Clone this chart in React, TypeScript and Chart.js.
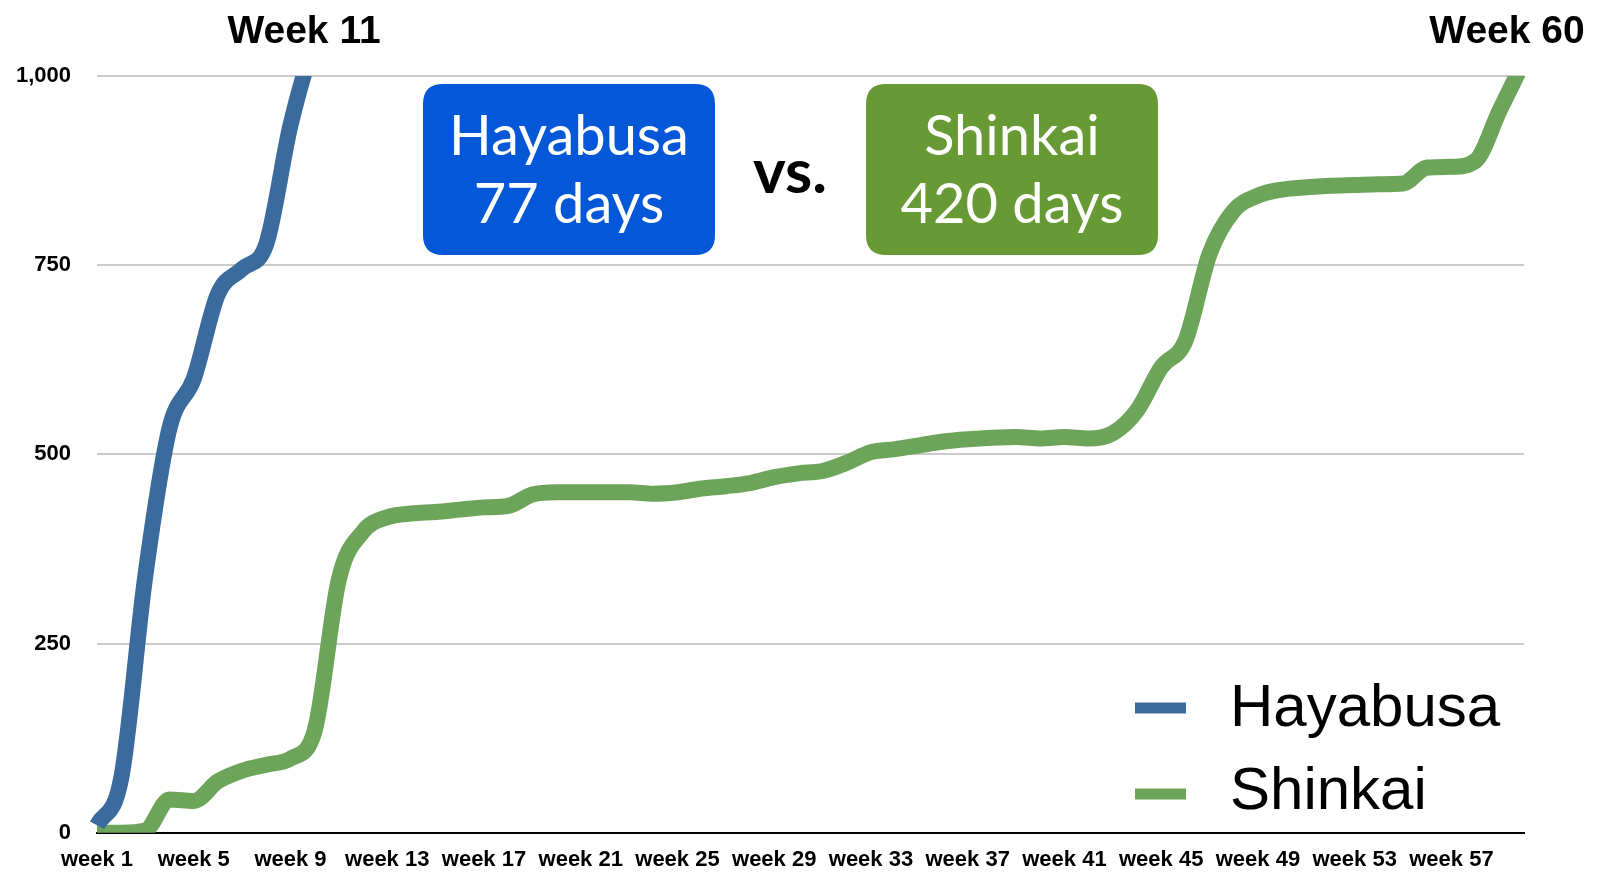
import React, { useEffect, useRef } from 'react';
import { Chart, registerables } from 'chart.js';

Chart.register(...registerables);

const weekLabels: string[] = Array.from({ length: 60 }, (_, i) => `week ${i + 1}`);

const hayabusa: number[] = [10, 72, 340, 535, 600, 712, 745, 778, 935, 1045, 1110];

const shinkai: number[] = [
  0, 0, 3, 44, 42, 68, 82, 90, 98, 135,
  335, 398, 417, 422, 424, 427, 430, 432, 447, 450,
  450, 450, 450, 448, 450, 455, 458, 462, 470, 475,
  478, 489, 503, 507, 512, 517, 520, 522, 523, 521,
  523, 521, 528, 558, 615, 650, 765, 822, 842, 850,
  853, 855, 856, 857, 858, 879, 880, 888, 955, 1020,
];

const seriesNames: string[] = ['Hayabusa', 'Shinkai'];
const seriesColors: string[] = ['#3b6a9c', '#6ca459'];
const yTicks: number[] = [0, 250, 500, 750, 1000];
const calloutTitles: string[] = ['Week 11', 'Week 60'];
const boxLines: string[][] = [['Hayabusa', '77 days'], ['Shinkai', '420 days']];
const boxColors: string[] = ['#0457d6', '#679a35'];

const AXIS_FONT = '"Liberation Sans", Arial, Helvetica, sans-serif';
const BOX_FONT = 'Lato, "Open Sans", sans-serif';

function roundRect(ctx: CanvasRenderingContext2D, x: number, y: number, w: number, h: number, r: number) {
  ctx.beginPath();
  ctx.moveTo(x + r, y);
  ctx.lineTo(x + w - r, y);
  ctx.quadraticCurveTo(x + w, y, x + w, y + r);
  ctx.lineTo(x + w, y + h - r);
  ctx.quadraticCurveTo(x + w, y + h, x + w - r, y + h);
  ctx.lineTo(x + r, y + h);
  ctx.quadraticCurveTo(x, y + h, x, y + h - r);
  ctx.lineTo(x, y + r);
  ctx.quadraticCurveTo(x, y, x + r, y);
  ctx.closePath();
}

const decorPlugin = {
  id: 'decor',
  afterDraw(chart: any) {
    const ctx: CanvasRenderingContext2D = chart.ctx;
    ctx.save();

    // Callout titles
    ctx.fillStyle = '#000';
    ctx.font = `bold 39px ${AXIS_FONT}`;
    ctx.textAlign = 'center';
    ctx.textBaseline = 'alphabetic';
    ctx.fillText(calloutTitles[0], 304, 43);
    ctx.fillText(calloutTitles[1], 1507, 43);

    // Boxes
    const boxes = [
      { x: 423, y: 84, w: 292, h: 171 },
      { x: 866, y: 84, w: 292, h: 171 },
    ];
    boxes.forEach((b, i) => {
      ctx.fillStyle = boxColors[i];
      roundRect(ctx, b.x, b.y, b.w, b.h, 20);
      ctx.fill();
      ctx.fillStyle = '#ffffff';
      ctx.font = `56px ${BOX_FONT}`;
      ctx.textAlign = 'center';
      ctx.fillText(boxLines[i][0], b.x + b.w / 2, 155);
      ctx.fillText(boxLines[i][1], b.x + b.w / 2, 223);
    });

    // vs.
    ctx.fillStyle = '#000';
    ctx.font = `bold 62px ${BOX_FONT}`;
    ctx.textAlign = 'center';
    ctx.fillText('vs.', 790, 193);

    // Legend
    const swatchY = [708, 794];
    const textY = [726, 809];
    chart.data.datasets.forEach((ds: any, i: number) => {
      ctx.fillStyle = ds.borderColor;
      ctx.fillRect(1135, swatchY[i] - 5.5, 51, 11);
      ctx.fillStyle = '#000';
      ctx.font = `60px ${AXIS_FONT}`;
      ctx.textAlign = 'left';
      ctx.fillText(ds.label, 1230, textY[i]);
    });

    ctx.restore();
  },
};

export default function App() {
  const canvasRef = useRef<HTMLCanvasElement | null>(null);

  useEffect(() => {
    const canvas = canvasRef.current;
    if (!canvas) return;
    const chart = new Chart(canvas, {
      type: 'line',
      data: {
        labels: weekLabels,
        datasets: [
          {
            label: seriesNames[0],
            data: hayabusa,
            borderColor: seriesColors[0],
            backgroundColor: seriesColors[0],
            borderWidth: 16,
            pointRadius: 0,
            cubicInterpolationMode: 'monotone',
            borderJoinStyle: 'round',
            fill: false,
          },
          {
            label: seriesNames[1],
            data: shinkai,
            borderColor: seriesColors[1],
            backgroundColor: seriesColors[1],
            borderWidth: 16,
            pointRadius: 0,
            cubicInterpolationMode: 'monotone',
            borderJoinStyle: 'round',
            fill: false,
          },
        ],
      },
      options: {
        animation: false,
        responsive: false,
        devicePixelRatio: 1,
        layout: { padding: { top: 76, right: 78, bottom: 0, left: 0 } },
        plugins: {
          legend: { display: false },
          tooltip: { enabled: false },
          title: { display: false },
        },
        scales: {
          x: {
            type: 'category',
            offset: false,
            grid: { display: false, drawTicks: false },
            border: { display: true, color: '#000', width: 2 },
            ticks: {
              autoSkip: false,
              maxRotation: 0,
              minRotation: 0,
              padding: 14,
              color: '#000',
              font: { family: AXIS_FONT, size: 22, weight: 'bold' },
              callback: (_v: any, idx: number) => (idx % 4 === 0 ? weekLabels[idx] : null),
            },
            afterFit: (scale: any) => {
              scale.height = 39;
            },
          },
          y: {
            min: 0,
            max: 1000,
            afterBuildTicks: (scale: any) => {
              scale.ticks = yTicks.map((v) => ({ value: v }));
            },
            grid: {
              drawTicks: false,
              lineWidth: 2,
              color: (c: any) => (c.tick && c.tick.value === 0 ? '#000' : '#cbcbcb'),
            },
            border: { display: false },
            ticks: {
              padding: 26,
              color: '#000',
              font: { family: AXIS_FONT, size: 22, weight: 'bold' },
              callback: (v: any) => Number(v).toLocaleString('en-US'),
            },
            afterFit: (scale: any) => {
              scale.width = 97;
            },
          },
        },
      },
      plugins: [decorPlugin],
    });
    return () => chart.destroy();
  }, []);

  return (
    <div style={{ position: 'fixed', left: 0, top: 0, width: 1602, height: 872, background: '#fff' }}>
      <canvas ref={canvasRef} width={1602} height={872} style={{ display: 'block' }} />
    </div>
  );
}
